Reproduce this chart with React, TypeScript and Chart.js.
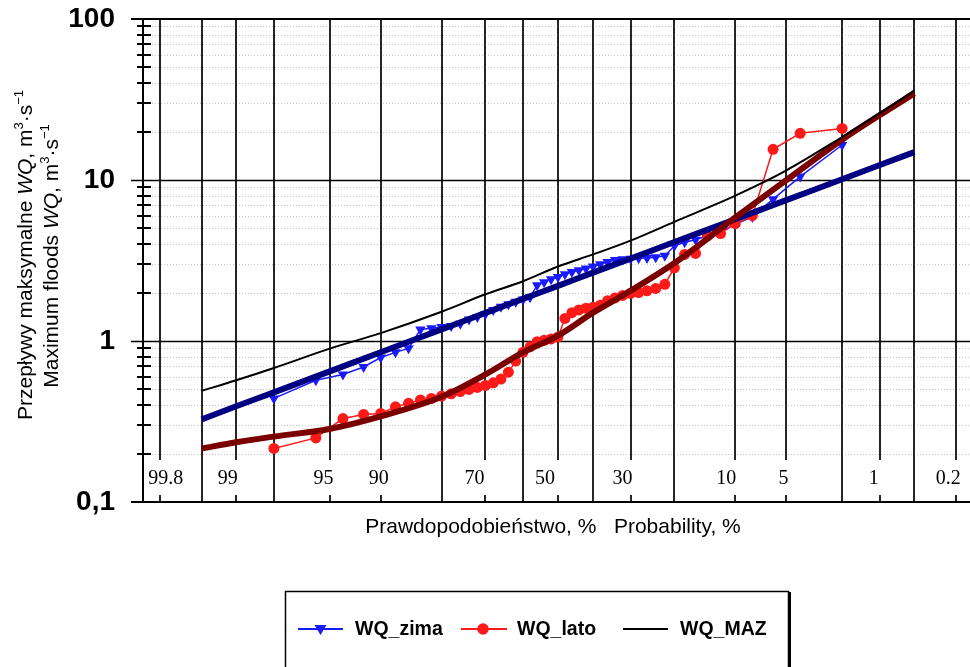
import { useEffect, useRef } from "react";
import { Chart, registerables } from "chart.js";

Chart.register(...registerables);

// ---------- DATA ----------
// exceedance probability (%) of each ranked observation
const EXCEED_P = [98, 96, 94, 92, 90, 88, 86, 84, 82, 80, 78, 76, 74, 72, 70, 68, 66, 64, 62, 60, 58, 56, 54, 52, 50, 48, 46, 44, 42, 40, 38, 36, 34, 32, 30, 28, 26, 24, 22, 20, 18, 16, 14, 12, 10, 8, 6, 4, 2];
const WQ_ZIMA = [0.44, 0.57, 0.62, 0.69, 0.79, 0.85, 0.9, 1.18, 1.2, 1.22, 1.24, 1.28, 1.36, 1.41, 1.47, 1.56, 1.63, 1.69, 1.75, 1.81, 1.87, 2.22, 2.32, 2.42, 2.5, 2.6, 2.68, 2.75, 2.82, 2.9, 3.0, 3.1, 3.18, 3.22, 3.24, 3.26, 3.28, 3.31, 3.38, 3.9, 4.1, 4.25, 4.5, 4.8, 5.3, 5.9, 7.6, 10.5, 16.5];
const WQ_LATO = [0.215, 0.25, 0.33, 0.35, 0.355, 0.39, 0.41, 0.43, 0.44, 0.455, 0.47, 0.485, 0.5, 0.515, 0.53, 0.55, 0.58, 0.64, 0.75, 0.85, 0.92, 0.99, 1.01, 1.03, 1.06, 1.38, 1.5, 1.56, 1.6, 1.62, 1.67, 1.78, 1.85, 1.92, 1.98, 2.0, 2.05, 2.12, 2.25, 2.85, 3.45, 3.5, 4.5, 4.65, 5.35, 6.0, 15.5, 19.5, 20.9];

// fitted distribution curves
const FIT_P = [99.5, 99, 98, 95, 90, 80, 70, 60, 50, 40, 30, 20, 10, 5, 2, 1, 0.5];
const FIT_ZIMA = [0.326, 0.393, 0.48, 0.65, 0.852, 1.18, 1.494, 1.827, 2.2, 2.66, 3.25, 4.12, 5.7, 7.47, 10.1, 12.4, 14.9];
const FIT_LATO = [0.215, 0.235, 0.255, 0.285, 0.34, 0.45, 0.62, 0.85, 1.08, 1.5, 2.05, 3.05, 5.85, 9.9, 17.8, 25.3, 34.5];
const WQ_MAZ = [0.49, 0.57, 0.68, 0.9, 1.12, 1.52, 1.95, 2.35, 2.9, 3.45, 4.2, 5.5, 8.0, 11.4, 18.5, 26, 36];

// axis ticks
const GRID_P = [99.8, 99.5, 99, 98, 95, 90, 80, 70, 60, 50, 40, 30, 20, 10, 5, 2, 1, 0.5, 0.2];
const X_TICK_LABELS = ["99.8", "99", "95", "90", "70", "50", "30", "10", "5", "1", "0.2"];
const Y_TICKS = [0.1, 1, 10, 100];
const Y_TICK_LABELS = ["0,1", "1", "10", "100"];

// label horizontal nudges (style only)
const X_LABEL_DX = [6, -8.5, -7, -2, -11, -13, -8, -9, -2, -6, -8];

// ---------- helpers ----------
function normInv(p: number): number {
  const a = [-3.969683028665376e1, 2.209460984245205e2, -2.759285104469687e2, 1.38357751867269e2, -3.066479806614716e1, 2.506628277459239];
  const b = [-5.447609879822406e1, 1.615858368580409e2, -1.556989798598866e2, 6.680131188771972e1, -1.328068155288572e1];
  const c = [-7.784894002430293e-3, -3.223964580411365e-1, -2.400758277161838, -2.549671010429714, 4.374664141464968, 2.938163982698783];
  const d = [7.784695709041462e-3, 3.224671290700398e-1, 2.445134137142996, 3.754408661907416];
  const pl = 0.02425;
  const ph = 1 - pl;
  let q: number, r: number;
  if (p < pl) {
    q = Math.sqrt(-2 * Math.log(p));
    return (((((c[0] * q + c[1]) * q + c[2]) * q + c[3]) * q + c[4]) * q + c[5]) / ((((d[0] * q + d[1]) * q + d[2]) * q + d[3]) * q + 1);
  }
  if (p <= ph) {
    q = p - 0.5;
    r = q * q;
    return ((((((a[0] * r + a[1]) * r + a[2]) * r + a[3]) * r + a[4]) * r + a[5]) * q) / (((((b[0] * r + b[1]) * r + b[2]) * r + b[3]) * r + b[4]) * r + 1);
  }
  q = Math.sqrt(-2 * Math.log(1 - p));
  return -(((((c[0] * q + c[1]) * q + c[2]) * q + c[3]) * q + c[4]) * q + c[5]) / ((((d[0] * q + d[1]) * q + d[2]) * q + d[3]) * q + 1);
}
const zOf = (pct: number) => normInv(1 - pct / 100);

type Seg = { t: string; it?: boolean; sup?: boolean };
const SANS = "Arial, 'Liberation Sans', sans-serif";
const SERIF = "'Times New Roman', 'Liberation Serif', serif";

function drawRich(ctx: CanvasRenderingContext2D, segs: Seg[], size: number) {
  const fontFor = (s: Seg) => `${s.it ? "italic " : ""}${s.sup ? Math.round(size * 0.62) : size}px ${SANS}`;
  let total = 0;
  for (const s of segs) {
    ctx.font = fontFor(s);
    total += ctx.measureText(s.t).width;
  }
  let x = -total / 2;
  ctx.textAlign = "left";
  ctx.textBaseline = "alphabetic";
  for (const s of segs) {
    ctx.font = fontFor(s);
    ctx.fillText(s.t, x, s.sup ? -size * 0.42 : 0);
    x += ctx.measureText(s.t).width;
  }
}

const probPlugin = {
  id: "probGrid",
  beforeDatasetsDraw(chart: any) {
    const { ctx, chartArea, scales } = chart;
    const { left, right, top, bottom } = chartArea;
    const xs = scales.x;
    const ys = scales.y;
    ctx.save();
    // minor dotted horizontals
    ctx.strokeStyle = "#c4c4c4";
    ctx.lineWidth = 1;
    ctx.setLineDash([1, 2]);
    for (const dec of [0.1, 1, 10]) {
      for (let k = 2; k <= 9; k++) {
        const py = Math.round(ys.getPixelForValue(dec * k)) + 0.5;
        ctx.beginPath();
        ctx.moveTo(left, py);
        ctx.lineTo(right, py);
        ctx.stroke();
      }
    }
    ctx.setLineDash([]);
    // verticals
    const labeled = X_TICK_LABELS.map((s) => parseFloat(s));
    ctx.strokeStyle = "#262626";
    ctx.lineWidth = 2;
    for (const p of GRID_P) {
      const px = Math.round(xs.getPixelForValue(zOf(p)));
      ctx.beginPath();
      if (labeled.includes(p)) {
        ctx.moveTo(px, top);
        ctx.lineTo(px, bottom - 42);
        ctx.moveTo(px, bottom - 7);
        ctx.lineTo(px, bottom);
      } else {
        ctx.moveTo(px, top);
        ctx.lineTo(px, bottom);
      }
      ctx.stroke();
    }
    // major horizontals
    ctx.strokeStyle = "#000";
    ctx.lineWidth = 1.6;
    for (const v of [1, 10]) {
      const py = Math.round(ys.getPixelForValue(v)) + 0.5;
      ctx.beginPath();
      ctx.moveTo(left - 12, py);
      ctx.lineTo(right, py);
      ctx.stroke();
    }
    ctx.restore();
  },
  afterDatasetsDraw(chart: any) {
    const { ctx, chartArea, scales } = chart;
    const { left, right, top, bottom } = chartArea;
    const xs = scales.x;
    const ys = scales.y;
    ctx.save();
    // frame
    ctx.strokeStyle = "#000";
    ctx.lineWidth = 2;
    ctx.beginPath();
    ctx.moveTo(left - 12, top);
    ctx.lineTo(right, top);
    ctx.moveTo(left - 12, bottom);
    ctx.lineTo(right, bottom);
    ctx.moveTo(left, top);
    ctx.lineTo(left, bottom);
    ctx.stroke();
    // minor y ticks
    ctx.lineWidth = 2;
    for (const dec of [0.1, 1, 10]) {
      for (let k = 2; k <= 9; k++) {
        const py = Math.round(ys.getPixelForValue(dec * k));
        ctx.beginPath();
        ctx.moveTo(left - 6, py);
        ctx.lineTo(left + 8, py);
        ctx.stroke();
      }
    }
    // y tick labels
    ctx.fillStyle = "#000";
    ctx.font = `bold 28px ${SANS}`;
    ctx.textAlign = "right";
    ctx.textBaseline = "middle";
    Y_TICKS.forEach((v, i) => {
      const py = ys.getPixelForValue(v);
      ctx.fillText(Y_TICK_LABELS[i], 115, py);
    });
    // x tick labels (inside band)
    ctx.font = `20px ${SERIF}`;
    ctx.textAlign = "center";
    ctx.textBaseline = "middle";
    X_TICK_LABELS.forEach((lab, i) => {
      const px = xs.getPixelForValue(zOf(parseFloat(lab)));
      ctx.fillText(lab, px + X_LABEL_DX[i], bottom - 23);
    });
    // x title
    ctx.font = `21px ${SANS}`;
    ctx.textAlign = "center";
    ctx.textBaseline = "middle";
    ctx.fillText("Prawdopodobieństwo, %   Probability, %", 553, 527);
    // y title
    const l1: Seg[] = [{ t: "Przepływy maksymalne " }, { t: "WQ", it: true }, { t: ", m" }, { t: "3", sup: true }, { t: "·s" }, { t: "−1", sup: true }];
    const l2: Seg[] = [{ t: "Maximum floods " }, { t: "WQ", it: true }, { t: ", m" }, { t: "3", sup: true }, { t: "·s" }, { t: "−1", sup: true }];
    ctx.save();
    ctx.translate(31.5, 255);
    ctx.rotate(-Math.PI / 2);
    drawRich(ctx, l1, 21);
    ctx.restore();
    ctx.save();
    ctx.translate(58, 256);
    ctx.rotate(-Math.PI / 2);
    drawRich(ctx, l2, 21);
    ctx.restore();

    // legend box
    ctx.strokeStyle = "#000";
    ctx.lineWidth = 1.5;
    ctx.strokeRect(285.5, 591.5, 503, 100);
    ctx.lineWidth = 3;
    ctx.beginPath();
    ctx.moveTo(789.5, 592);
    ctx.lineTo(789.5, 680);
    ctx.stroke();
    const ly = 629;
    // zima
    ctx.strokeStyle = "#1a1aff";
    ctx.fillStyle = "#1a1aff";
    ctx.lineWidth = 2;
    ctx.beginPath();
    ctx.moveTo(298, ly);
    ctx.lineTo(343, ly);
    ctx.stroke();
    ctx.beginPath();
    ctx.moveTo(314.5, ly - 4);
    ctx.lineTo(326.5, ly - 4);
    ctx.lineTo(320.5, ly + 6);
    ctx.closePath();
    ctx.fill();
    // lato
    ctx.strokeStyle = "#ff1a1a";
    ctx.fillStyle = "#ff1a1a";
    ctx.beginPath();
    ctx.moveTo(461, ly);
    ctx.lineTo(507, ly);
    ctx.stroke();
    ctx.beginPath();
    ctx.arc(483, ly, 5.8, 0, Math.PI * 2);
    ctx.fill();
    // maz
    ctx.strokeStyle = "#000";
    ctx.lineWidth = 2.2;
    ctx.beginPath();
    ctx.moveTo(623, ly);
    ctx.lineTo(668, ly);
    ctx.stroke();
    ctx.fillStyle = "#000";
    ctx.font = `bold 19.5px ${SANS}`;
    ctx.textAlign = "left";
    ctx.textBaseline = "middle";
    ctx.fillText("WQ_zima", 355, ly + 1);
    ctx.fillText("WQ_lato", 517, ly + 1);
    ctx.fillText("WQ_MAZ", 680, ly + 1);
    ctx.restore();
  },
};

export default function App() {
  const ref = useRef<HTMLCanvasElement>(null);
  useEffect(() => {
    const canvas = ref.current;
    if (!canvas) return;
    const obs = (vals: number[]) => EXCEED_P.map((p, i) => ({ x: zOf(p), y: vals[i] }));
    const fit = (vals: number[]) => FIT_P.map((p, i) => ({ x: zOf(p), y: vals[i] }));
    const chart = new Chart(canvas, {
      type: "line",
      data: {
        datasets: [
          {
            label: "WQ_zima",
            data: obs(WQ_ZIMA),
            borderColor: "#1a1aff",
            backgroundColor: "#1a1aff",
            borderWidth: 1.5,
            pointStyle: "triangle",
            rotation: 180,
            pointRadius: 6,
            pointBorderWidth: 0,
            order: 5,
          },
          {
            label: "WQ_lato",
            data: obs(WQ_LATO),
            borderColor: "#ff1a1a",
            backgroundColor: "#ff1a1a",
            borderWidth: 1.5,
            pointStyle: "circle",
            pointRadius: 5.5,
            pointBorderWidth: 0,
            order: 4,
          },
          {
            label: "fit zima",
            data: fit(FIT_ZIMA),
            borderColor: "#000080",
            borderWidth: 6,
            pointRadius: 0,
            cubicInterpolationMode: "monotone",
            order: 3,
          },
          {
            label: "fit lato",
            data: fit(FIT_LATO),
            borderColor: "#7a0000",
            borderWidth: 6,
            pointRadius: 0,
            cubicInterpolationMode: "monotone",
            order: 2,
          },
          {
            label: "WQ_MAZ",
            data: fit(WQ_MAZ),
            borderColor: "#000000",
            borderWidth: 2,
            pointRadius: 0,
            cubicInterpolationMode: "monotone",
            order: 1,
          },
        ] as any,
      },
      options: {
        responsive: false,
        devicePixelRatio: 1,
        animation: false,
        events: [],
        layout: { autoPadding: false, padding: { left: 143, top: 19, right: 0, bottom: 165 } },
        plugins: { legend: { display: false }, tooltip: { enabled: false } },
        scales: {
          x: { type: "linear", min: -3, max: 3, display: false },
          y: { type: "logarithmic", min: 0.1, max: 100, display: false },
        },
      } as any,
      plugins: [probPlugin],
    });
    return () => chart.destroy();
  }, []);
  return (
    <div style={{ position: "absolute", left: 0, top: 0, width: 970, height: 667, overflow: "hidden", background: "#fff" }}>
      <canvas ref={ref} width={973} height={667} style={{ display: "block", width: 973, height: 667 }} />
    </div>
  );
}
